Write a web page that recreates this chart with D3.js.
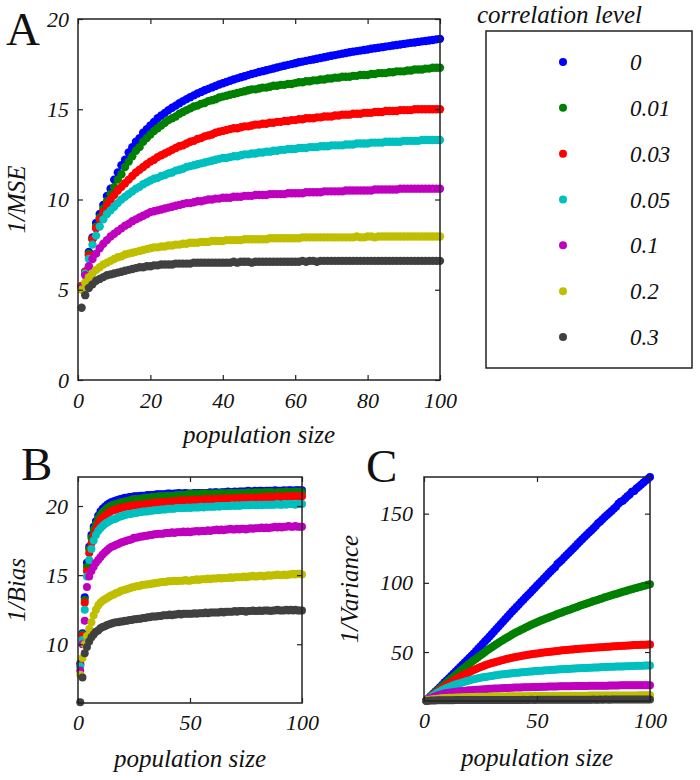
<html>
<meta charset="UTF-8">
<head>
    <title>Population size vs correlation level</title>
    <script src="https://d3js.org/d3.v7.min.js"></script>
    <style>
        body { margin: 0; background: #fff; }
        .axis line { stroke: #222; stroke-width: 1.2; }
        .axis .domain { stroke: none; }
        .frame { fill: none; stroke: #222; stroke-width: 1.5; }
    </style>
</head>
<body>
<svg id="fig" width="700" height="780"></svg>
<script>
    const serif = '"Liberation Serif", "DejaVu Serif", "Times New Roman", serif';

    // legend entries (correlation level) and colours
    const corrLevels = ["0", "0.01", "0.03", "0.05", "0.1", "0.2", "0.3"];
    const colors = ["#0000ff", "#008000", "#ff0000", "#00bfbf", "#bf00bf", "#bfbf00", "#404040"];

    // x values: population size 1..100
    const popSize = d3.range(1, 101);

    // tick values
    const mseTicksX = [0, 20, 40, 60, 80, 100];
    const mseTicksY = [0, 5, 10, 15, 20];
    const smallTicksX = [0, 50, 100];
    const biasTicksY = [10, 15, 20];
    const varTicksY = [50, 100, 150];

    // ---- Panel A : 1/MSE
    const mse_0 = [
        5.2,6.0,7.1,7.9,8.7,9.2,9.7,10.2,10.6,11.1,
        11.5,11.9,12.2,12.6,12.9,13.2,13.4,13.7,13.9,14.1,
        14.3,14.5,14.65,14.8,14.95,15.08,15.2,15.33,15.45,15.56,
        15.67,15.77,15.87,15.96,16.05,16.13,16.21,16.29,16.37,16.44,
        16.51,16.58,16.65,16.71,16.77,16.83,16.89,16.95,17.0,17.06,
        17.11,17.16,17.21,17.26,17.31,17.36,17.41,17.46,17.5,17.55,
        17.6,17.64,17.68,17.72,17.76,17.8,17.84,17.88,17.92,17.96,
        18.0,18.04,18.08,18.12,18.16,18.19,18.22,18.25,18.28,18.31,
        18.35,18.38,18.41,18.44,18.47,18.5,18.53,18.56,18.59,18.62,
        18.65,18.68,18.7,18.73,18.76,18.78,18.81,18.84,18.87,18.9];
    const mse_001 = [
        5.2,6.0,7.0,7.8,8.5,9.0,9.5,9.9,10.3,10.7,
        11.1,11.4,11.8,12.1,12.4,12.7,12.9,13.2,13.4,13.6,
        13.8,13.95,14.1,14.25,14.4,14.5,14.6,14.75,14.85,14.95,
        15.05,15.15,15.2,15.3,15.35,15.45,15.5,15.55,15.65,15.7,
        15.75,15.8,15.85,15.9,15.95,16.0,16.05,16.1,16.1,16.15,
        16.2,16.2,16.25,16.3,16.3,16.35,16.35,16.4,16.4,16.45,
        16.5,16.5,16.55,16.55,16.6,16.6,16.65,16.65,16.7,16.7,
        16.75,16.75,16.8,16.8,16.8,16.85,16.85,16.9,16.9,16.9,
        16.95,16.95,17.0,17.0,17.0,17.05,17.05,17.1,17.1,17.1,
        17.15,17.15,17.2,17.2,17.2,17.25,17.25,17.3,17.3,17.3];
    const mse_003 = [
        5.2,6.0,6.9,7.8,8.4,8.9,9.3,9.7,10.0,10.25,
        10.5,10.7,10.9,11.1,11.3,11.5,11.65,11.8,11.95,12.1,
        12.2,12.35,12.45,12.55,12.65,12.75,12.85,12.95,13.0,13.1,
        13.2,13.25,13.35,13.4,13.5,13.55,13.6,13.7,13.75,13.8,
        13.85,13.9,13.95,13.95,14.0,14.05,14.05,14.1,14.15,14.15,
        14.2,14.2,14.25,14.25,14.3,14.3,14.35,14.35,14.4,14.4,
        14.45,14.45,14.5,14.5,14.5,14.55,14.55,14.6,14.6,14.6,
        14.65,14.65,14.7,14.7,14.7,14.75,14.75,14.75,14.8,14.8,
        14.8,14.85,14.85,14.85,14.9,14.9,14.9,14.9,14.95,14.95,
        14.95,14.95,15.0,15.0,15.0,15.0,15.0,15.0,15.0,15.0];
    const mse_005 = [
        5.1,5.9,6.7,7.5,8.0,8.5,8.9,9.2,9.4,9.6,
        9.8,10.0,10.15,10.3,10.45,10.6,10.7,10.85,10.95,11.05,
        11.15,11.2,11.3,11.35,11.45,11.5,11.6,11.65,11.7,11.8,
        11.85,11.9,11.95,12.0,12.05,12.1,12.15,12.2,12.25,12.3,
        12.3,12.35,12.4,12.4,12.45,12.5,12.5,12.55,12.55,12.6,
        12.6,12.65,12.65,12.7,12.7,12.75,12.75,12.8,12.8,12.8,
        12.85,12.85,12.85,12.9,12.9,12.9,12.95,12.95,12.95,13.0,
        13.0,13.0,13.0,13.05,13.05,13.05,13.1,13.1,13.1,13.1,
        13.15,13.15,13.15,13.15,13.2,13.2,13.2,13.2,13.2,13.25,
        13.25,13.25,13.25,13.25,13.3,13.3,13.3,13.3,13.3,13.3];
    const mse_01 = [
        5.1,5.8,6.3,6.7,7.0,7.3,7.55,7.75,7.95,8.1,
        8.25,8.4,8.55,8.65,8.8,8.9,9.0,9.1,9.2,9.3,
        9.35,9.4,9.45,9.5,9.55,9.6,9.65,9.7,9.75,9.8,
        9.8,9.85,9.9,9.9,9.95,10.0,10.0,10.05,10.05,10.1,
        10.1,10.1,10.15,10.15,10.15,10.2,10.2,10.2,10.25,10.25,
        10.25,10.25,10.3,10.3,10.3,10.3,10.3,10.35,10.35,10.35,
        10.35,10.35,10.4,10.4,10.4,10.4,10.4,10.45,10.45,10.45,
        10.45,10.45,10.45,10.5,10.5,10.5,10.5,10.5,10.5,10.5,
        10.5,10.55,10.55,10.55,10.55,10.55,10.55,10.55,10.6,10.6,
        10.6,10.6,10.6,10.6,10.6,10.6,10.6,10.6,10.6,10.6];
    const mse_02 = [
        5.0,5.4,5.7,5.9,6.1,6.25,6.4,6.5,6.6,6.7,
        6.8,6.85,6.95,7.0,7.05,7.1,7.15,7.2,7.25,7.3,
        7.35,7.35,7.4,7.4,7.45,7.45,7.5,7.5,7.55,7.55,
        7.6,7.6,7.6,7.65,7.65,7.65,7.7,7.7,7.7,7.7,
        7.75,7.75,7.75,7.75,7.75,7.8,7.8,7.8,7.8,7.8,
        7.8,7.8,7.85,7.85,7.85,7.85,7.85,7.85,7.85,7.85,
        7.85,7.9,7.9,7.9,7.9,7.9,7.9,7.9,7.9,7.9,
        7.9,7.9,7.9,7.9,7.9,7.9,7.95,7.9,7.9,7.95,
        7.95,7.9,7.95,7.95,7.95,7.95,7.95,7.95,7.95,7.95,
        7.95,7.95,7.95,7.95,7.95,7.95,7.95,7.95,7.95,7.95];
    const mse_03 = [
        4.0,4.7,5.1,5.3,5.5,5.6,5.7,5.8,5.85,5.9,
        5.95,6.0,6.05,6.1,6.15,6.2,6.25,6.25,6.3,6.3,
        6.35,6.35,6.4,6.4,6.4,6.4,6.45,6.45,6.45,6.45,
        6.45,6.5,6.5,6.5,6.5,6.5,6.5,6.5,6.5,6.5,
        6.5,6.5,6.55,6.5,6.55,6.55,6.55,6.5,6.55,6.55,
        6.55,6.55,6.55,6.55,6.55,6.55,6.55,6.55,6.55,6.55,
        6.55,6.6,6.55,6.6,6.6,6.55,6.6,6.6,6.6,6.6,
        6.6,6.6,6.6,6.6,6.6,6.6,6.6,6.6,6.6,6.6,
        6.6,6.6,6.6,6.6,6.6,6.6,6.6,6.6,6.6,6.6,
        6.6,6.6,6.6,6.6,6.6,6.6,6.6,6.6,6.6,6.6];

    // ---- Panel B : 1/Bias
    const bias_0 = [
        8.6,10.8,13.4,15.9,17.05,17.9,18.5,18.9,19.3,19.6,
        19.8,19.95,20.1,20.2,20.3,20.35,20.4,20.45,20.5,20.55,
        20.6,20.6,20.65,20.65,20.7,20.7,20.7,20.75,20.75,20.75,
        20.8,20.8,20.8,20.8,20.85,20.85,20.85,20.85,20.85,20.9,
        20.9,20.85,20.9,20.9,20.95,20.9,20.9,20.95,20.9,20.9,
        20.9,20.95,20.9,20.95,20.95,20.95,20.95,20.95,21.0,20.95,
        21.0,21.0,20.95,21.0,21.0,21.0,21.05,21.0,21.0,21.05,
        21.0,21.05,21.05,21.05,21.05,21.1,21.05,21.05,21.1,21.05,
        21.1,21.1,21.05,21.1,21.1,21.1,21.1,21.15,21.1,21.1,
        21.1,21.15,21.1,21.15,21.15,21.1,21.15,21.15,21.15,21.15];
    const bias_001 = [
        8.5,10.7,13.2,15.6,16.9,17.7,18.3,18.7,19.1,19.35,
        19.55,19.7,19.85,19.95,20.05,20.1,20.15,20.2,20.25,20.3,
        20.35,20.35,20.4,20.45,20.5,20.5,20.5,20.55,20.55,20.6,
        20.6,20.6,20.65,20.65,20.65,20.7,20.7,20.7,20.7,20.75,
        20.75,20.75,20.75,20.8,20.8,20.8,20.8,20.8,20.85,20.85,
        20.85,20.85,20.85,20.85,20.9,20.9,20.9,20.85,20.9,20.9,
        20.9,20.9,20.9,20.95,20.9,20.9,20.95,20.95,20.9,20.95,
        20.95,20.95,20.95,20.95,20.95,21.0,20.95,20.95,21.0,20.95,
        21.0,20.95,21.0,21.0,21.0,21.0,21.0,20.95,21.0,21.0,
        21.0,21.0,21.05,21.0,21.0,21.0,21.05,21.0,21.05,21.0];
    const bias_003 = [
        8.5,10.6,13.0,15.3,16.6,17.3,17.9,18.3,18.7,19.0,
        19.15,19.3,19.4,19.55,19.65,19.7,19.75,19.8,19.85,19.9,
        19.95,19.95,20.0,20.0,20.05,20.05,20.1,20.1,20.1,20.15,
        20.15,20.2,20.2,20.2,20.25,20.25,20.25,20.3,20.3,20.3,
        20.3,20.35,20.35,20.35,20.35,20.4,20.4,20.4,20.4,20.4,
        20.45,20.4,20.45,20.45,20.45,20.45,20.5,20.45,20.5,20.5,
        20.5,20.5,20.5,20.55,20.5,20.55,20.55,20.55,20.55,20.55,
        20.55,20.6,20.55,20.6,20.6,20.6,20.6,20.6,20.6,20.6,
        20.6,20.65,20.6,20.65,20.65,20.65,20.65,20.65,20.7,20.65,
        20.65,20.7,20.7,20.65,20.7,20.7,20.7,20.7,20.7,20.7];
    const bias_005 = [
        8.4,10.3,12.5,14.9,16.1,16.9,17.5,17.9,18.2,18.4,
        18.55,18.7,18.8,18.9,19.0,19.05,19.1,19.2,19.25,19.3,
        19.35,19.4,19.4,19.45,19.5,19.5,19.55,19.55,19.6,19.6,
        19.6,19.65,19.65,19.7,19.7,19.7,19.75,19.75,19.75,19.8,
        19.8,19.8,19.8,19.85,19.85,19.85,19.85,19.85,19.9,19.85,
        19.9,19.9,19.9,19.9,19.95,19.9,19.95,19.95,19.95,19.95,
        19.95,20.0,19.95,20.0,20.0,20.0,20.0,20.0,20.05,20.0,
        20.05,20.0,20.05,20.05,20.05,20.05,20.05,20.1,20.05,20.05,
        20.1,20.05,20.1,20.1,20.1,20.1,20.1,20.1,20.15,20.1,
        20.1,20.15,20.1,20.15,20.15,20.15,20.1,20.15,20.15,20.15];
    const bias_01 = [
        8.1,10.0,11.7,14.15,14.9,15.3,15.6,15.9,16.1,16.3,
        16.5,16.65,16.8,16.95,17.05,17.1,17.2,17.25,17.35,17.4,
        17.45,17.5,17.55,17.6,17.7,17.7,17.75,17.8,17.8,17.85,
        17.85,17.9,17.9,17.95,17.95,18.0,18.0,18.0,18.05,18.05,
        18.05,18.1,18.05,18.1,18.1,18.1,18.15,18.1,18.15,18.1,
        18.15,18.15,18.2,18.15,18.2,18.2,18.2,18.25,18.2,18.25,
        18.25,18.3,18.25,18.3,18.25,18.3,18.3,18.35,18.3,18.3,
        18.35,18.3,18.35,18.35,18.3,18.35,18.4,18.35,18.4,18.4,
        18.4,18.45,18.4,18.45,18.4,18.45,18.45,18.5,18.45,18.5,
        18.45,18.5,18.5,18.55,18.5,18.5,18.55,18.5,18.5,18.5];
    const bias_02 = [
        7.8,9.0,10.0,10.6,11.1,11.6,12.1,12.5,12.8,13.0,
        13.15,13.25,13.35,13.45,13.55,13.6,13.7,13.75,13.85,13.9,
        13.95,14.0,14.05,14.1,14.15,14.2,14.2,14.25,14.3,14.3,
        14.35,14.35,14.4,14.4,14.45,14.45,14.5,14.5,14.5,14.55,
        14.55,14.55,14.6,14.55,14.6,14.6,14.6,14.65,14.6,14.6,
        14.65,14.65,14.7,14.65,14.7,14.7,14.7,14.75,14.7,14.75,
        14.75,14.75,14.8,14.75,14.8,14.8,14.8,14.85,14.8,14.85,
        14.85,14.85,14.85,14.9,14.85,14.9,14.9,14.95,14.9,14.9,
        14.95,14.95,14.9,14.95,15.0,14.95,15.0,15.0,15.05,15.0,
        15.0,15.05,15.0,15.05,15.05,15.1,15.05,15.1,15.1,15.05];
    const bias_03 = [
        5.8,7.6,9.35,9.8,10.2,10.5,10.7,10.9,11.0,11.15,
        11.25,11.3,11.4,11.45,11.5,11.55,11.6,11.6,11.65,11.65,
        11.7,11.7,11.75,11.75,11.8,11.8,11.85,11.85,11.9,11.9,
        11.95,11.95,12.0,12.0,12.0,12.05,12.05,12.1,12.1,12.1,
        12.15,12.1,12.15,12.15,12.2,12.15,12.2,12.2,12.2,12.2,
        12.2,12.25,12.2,12.25,12.25,12.25,12.3,12.25,12.3,12.3,
        12.3,12.3,12.3,12.35,12.3,12.35,12.35,12.35,12.35,12.4,
        12.35,12.4,12.4,12.4,12.35,12.4,12.4,12.45,12.4,12.4,
        12.45,12.4,12.45,12.45,12.45,12.4,12.45,12.45,12.5,12.45,
        12.45,12.45,12.5,12.45,12.5,12.45,12.5,12.45,12.45,12.45];

    // ---- Panel C : 1/Variance
    const var_0 = [
        15.0,16.6,18.2,19.8,21.4,23.0,24.6,26.2,27.9,29.5,
        31.1,32.7,34.3,35.9,37.5,39.1,40.8,42.4,44.0,45.6,
        47.3,49.0,50.8,52.5,54.2,56.0,57.7,59.5,61.2,63.0,
        64.8,66.6,68.4,70.2,72.0,73.8,75.6,77.4,79.2,81.0,
        82.7,84.4,86.1,87.8,89.5,91.2,92.9,94.6,96.3,98.0,
        99.7,101.4,103.1,104.8,106.5,108.2,109.9,111.2,113.6,115.0,
        116.6,118.3,119.9,121.6,123.2,124.9,126.5,128.2,129.8,131.5,
        133.1,134.7,136.3,137.9,139.5,141.1,143.1,144.3,145.9,147.5,
        149.0,150.5,152.0,153.5,155.0,157.2,158.6,159.4,161.0,162.5,
        163.9,165.8,166.4,168.1,169.5,170.9,172.3,173.7,175.1,176.5];
    const var_001 = [
        15.0,16.5,18.0,19.4,20.9,22.3,23.7,25.2,26.6,28.0,
        29.4,30.8,32.2,33.5,34.9,36.2,37.6,38.9,40.2,41.5,
        42.8,44.0,45.2,46.4,47.6,48.8,50.0,51.2,52.4,53.5,
        54.6,55.6,56.7,57.7,58.7,59.7,60.7,61.6,62.6,63.5,
        64.4,65.2,66.1,66.9,67.7,68.5,69.3,70.0,70.8,71.5,
        72.2,72.9,73.5,74.2,74.8,75.5,76.1,76.7,77.4,78.0,
        78.6,79.2,79.8,80.4,81.0,81.6,82.2,82.8,83.4,84.0,
        84.6,85.1,85.7,86.2,86.8,87.3,87.8,88.4,88.9,89.5,
        90.0,90.5,91.0,91.5,92.0,92.5,93.0,93.5,94.0,94.5,
        95.0,95.4,95.9,96.3,96.8,97.2,97.7,98.1,98.6,99.0];
    const var_003 = [
        15.0,16.3,17.6,18.9,20.1,21.3,22.5,23.7,24.9,26.0,
        27.1,28.2,29.2,30.2,31.2,32.1,33.0,33.8,34.6,35.4,
        36.2,37.0,37.7,38.4,39.1,39.7,40.4,41.0,41.5,42.0,
        42.5,43.0,43.4,43.9,44.3,44.7,45.1,45.5,45.8,46.2,
        46.5,46.8,47.1,47.4,47.7,48.0,48.2,48.5,48.7,49.0,
        49.2,49.4,49.6,49.8,50.0,50.2,50.4,50.6,50.8,51.0,
        51.2,51.3,51.5,51.6,51.8,51.9,52.1,52.2,52.4,52.5,
        52.6,52.7,52.8,53.0,53.1,53.2,53.3,53.4,53.5,53.7,
        53.8,53.9,54.0,54.1,54.2,54.3,54.4,54.5,54.6,54.7,
        54.8,54.9,55.0,55.0,55.1,55.2,55.3,55.3,55.4,55.5];
    const var_005 = [
        15.0,16.2,17.4,18.5,19.5,20.5,21.4,22.3,23.2,24.0,
        24.7,25.3,25.9,26.5,27.0,27.5,28.0,28.5,29.0,29.5,
        29.9,30.3,30.7,31.0,31.4,31.7,32.0,32.2,32.5,32.7,
        33.0,33.2,33.5,33.7,33.9,34.1,34.3,34.5,34.6,34.8,
        35.0,35.1,35.3,35.4,35.6,35.7,35.9,36.0,36.2,36.3,
        36.4,36.5,36.7,36.8,36.9,37.0,37.1,37.2,37.4,37.5,
        37.6,37.7,37.7,37.8,37.9,38.0,38.1,38.2,38.3,38.4,
        38.5,38.5,38.6,38.7,38.8,38.8,38.9,39.0,39.1,39.2,
        39.2,39.3,39.3,39.4,39.5,39.5,39.6,39.6,39.7,39.8,
        39.8,39.9,39.9,40.0,40.0,40.1,40.1,40.2,40.2,40.3];
    const var_01 = [
        15.0,15.9,16.7,17.4,18.0,18.6,19.1,19.5,20.0,20.4,
        20.6,20.8,21.0,21.2,21.4,21.6,21.8,21.9,22.1,22.3,
        22.4,22.5,22.7,22.8,22.9,23.0,23.1,23.2,23.4,23.5,
        23.6,23.7,23.7,23.8,23.9,24.0,24.0,24.1,24.2,24.3,
        24.3,24.4,24.4,24.5,24.5,24.6,24.6,24.7,24.7,24.8,
        24.8,24.9,24.9,24.9,25.0,25.0,25.1,25.1,25.1,25.2,
        25.2,25.2,25.3,25.3,25.3,25.4,25.4,25.4,25.5,25.5,
        25.5,25.5,25.6,25.6,25.6,25.6,25.7,25.7,25.7,25.7,
        25.7,25.8,25.8,25.8,25.8,25.8,25.9,25.9,25.9,25.9,
        25.9,25.9,26.0,26.0,26.0,26.0,26.0,26.0,26.0,26.0];
    const var_02 = [
        15.0,15.3,15.6,15.8,16.0,16.2,16.4,16.5,16.7,16.8,
        16.9,17.0,17.0,17.1,17.2,17.2,17.3,17.4,17.4,17.5,
        17.5,17.5,17.6,17.6,17.6,17.7,17.7,17.7,17.8,17.8,
        17.8,17.8,17.9,17.9,17.9,17.9,18.0,18.0,18.0,18.0,
        18.0,18.1,18.1,18.1,18.1,18.1,18.2,18.2,18.2,18.2,
        18.2,18.2,18.3,18.3,18.3,18.3,18.3,18.3,18.3,18.4,
        18.4,18.4,18.4,18.4,18.4,18.4,18.4,18.4,18.4,18.4,
        18.4,18.4,18.5,18.5,18.5,18.5,18.5,18.5,18.5,18.5,
        18.5,18.5,18.5,18.6,18.6,18.6,18.6,18.6,18.6,18.6,
        18.6,18.6,18.6,18.6,18.7,18.7,18.7,18.7,18.7,18.7];
    const var_03 = [
        14.6,14.8,14.9,15.0,15.0,15.1,15.1,15.1,15.2,15.2,
        15.2,15.2,15.2,15.3,15.3,15.3,15.3,15.3,15.3,15.3,
        15.3,15.3,15.3,15.3,15.4,15.3,15.4,15.4,15.4,15.4,
        15.4,15.4,15.4,15.4,15.4,15.4,15.4,15.4,15.4,15.4,
        15.4,15.4,15.4,15.5,15.4,15.4,15.5,15.5,15.4,15.5,
        15.5,15.5,15.5,15.5,15.5,15.5,15.5,15.5,15.5,15.5,
        15.5,15.5,15.5,15.5,15.5,15.5,15.5,15.5,15.5,15.5,
        15.5,15.5,15.5,15.5,15.6,15.5,15.5,15.6,15.5,15.6,
        15.6,15.5,15.6,15.6,15.6,15.6,15.6,15.6,15.6,15.6,
        15.6,15.6,15.6,15.6,15.6,15.6,15.6,15.6,15.6,15.6];

    const mseSeries = [mse_0, mse_001, mse_003, mse_005, mse_01, mse_02, mse_03];
    const biasSeries = [bias_0, bias_001, bias_003, bias_005, bias_01, bias_02, bias_03];
    const varSeries = [var_0, var_001, var_003, var_005, var_01, var_02, var_03];

    const svg = d3.select("svg#fig");

    // italic serif label helper
    function label(sel, size, italic) {
        return sel.style("font-family", serif)
            .style("font-size", size + "px")
            .style("font-style", italic ? "italic" : "normal")
            .style("fill", "#111");
    }

    // draws one boxed scatter panel, matlab style (ticks inside, on all 4 sides)
    function drawPanel(p) {
        const x = d3.scaleLinear().domain(p.xDomain).range([p.left, p.right]);
        const y = d3.scaleLinear().domain(p.yDomain).range([p.bottom, p.top]);
        const g = svg.append("g");

        // dots, first series drawn first
        p.series.forEach((vals, i) => {
            g.append("g")
                .selectAll("circle")
                .data(vals.map((v, j) => ({x: popSize[j], y: v})))
                .join("circle")
                .attr("cx", d => x(d.x))
                .attr("cy", d => y(d.y))
                .attr("r", p.r)
                .attr("fill", colors[i]);
        });

        const tick = 5;
        const bottomAxis = g.append("g").attr("class", "axis")
            .attr("transform", `translate(0,${p.bottom})`)
            .call(d3.axisBottom(x).tickValues(p.xTicks).tickSizeInner(-tick).tickSizeOuter(0).tickPadding(p.xPad));
        g.append("g").attr("class", "axis")
            .attr("transform", `translate(0,${p.top})`)
            .call(d3.axisTop(x).tickValues(p.xTicks).tickSizeInner(-tick).tickSizeOuter(0).tickFormat(""));
        const leftAxis = g.append("g").attr("class", "axis")
            .attr("transform", `translate(${p.left},0)`)
            .call(d3.axisLeft(y).tickValues(p.yTicks).tickSizeInner(-tick).tickSizeOuter(0).tickPadding(p.yPad));
        g.append("g").attr("class", "axis")
            .attr("transform", `translate(${p.right},0)`)
            .call(d3.axisRight(y).tickValues(p.yTicks).tickSizeInner(-tick).tickSizeOuter(0).tickFormat(""));
        label(bottomAxis.selectAll("text"), 22, true);
        label(leftAxis.selectAll("text"), 22, true);

        g.append("rect").attr("class", "frame")
            .attr("x", p.left).attr("y", p.top)
            .attr("width", p.right - p.left).attr("height", p.bottom - p.top);

        // axis titles
        label(g.append("text"), 25, true)
            .attr("x", (p.left + p.right) / 2)
            .attr("y", p.xTitleY)
            .attr("text-anchor", "middle")
            .text("population size");
        label(g.append("text"), 25, true)
            .attr("transform", `translate(${p.yTitleX},${(p.top + p.bottom) / 2}) rotate(-90)`)
            .attr("text-anchor", "middle")
            .text(p.yTitle);

        // panel letter
        label(g.append("text"), 47, false)
            .attr("x", p.letterX).attr("y", p.letterY)
            .text(p.letter);
    }

    drawPanel({
        left: 78, right: 440, top: 19, bottom: 380,
        xDomain: [0, 100], yDomain: [0, 20],
        xTicks: mseTicksX, yTicks: mseTicksY, xPad: 12, yPad: 9,
        series: mseSeries, r: 4.2,
        yTitle: "1/MSE", yTitleX: 25, xTitleY: 443,
        letter: "A", letterX: 6, letterY: 45
    });

    drawPanel({
        left: 78, right: 302, top: 477, bottom: 703,
        xDomain: [0, 100], yDomain: [5.75, 22.1],
        xTicks: smallTicksX, yTicks: biasTicksY, xPad: 11, yPad: 10,
        series: biasSeries, r: 4,
        yTitle: "1/Bias", yTitleX: 25, xTitleY: 767,
        letter: "B", letterX: 21, letterY: 480
    });

    drawPanel({
        left: 424, right: 650, top: 477, bottom: 701,
        xDomain: [0, 100], yDomain: [14.6, 176.5],
        xTicks: smallTicksX, yTicks: varTicksY, xPad: 11, yPad: 11,
        series: varSeries, r: 4,
        yTitle: "1/Variance", yTitleX: 358, xTitleY: 766,
        letter: "C", letterX: 366, letterY: 482
    });

    // --- legend
    const legend = svg.append("g");
    label(legend.append("text"), 25, true)
        .attr("x", 477).attr("y", 23)
        .text("correlation level");
    legend.append("rect")
        .attr("class", "frame")
        .attr("x", 486).attr("y", 31)
        .attr("width", 206).attr("height", 337);

    const legendY = d3.scaleLinear().domain([0, corrLevels.length - 1]).range([62, 337]);
    legend.selectAll("circle")
        .data(corrLevels)
        .join("circle")
        .attr("cx", 563)
        .attr("cy", (d, i) => legendY(i))
        .attr("r", 4)
        .attr("fill", (d, i) => colors[i]);
    label(legend.selectAll("text.entry")
        .data(corrLevels)
        .join("text")
        .attr("class", "entry")
        .attr("x", 630)
        .attr("y", (d, i) => legendY(i) + 8)
        .text(d => d), 23, true);
</script>
</body>
</html>
